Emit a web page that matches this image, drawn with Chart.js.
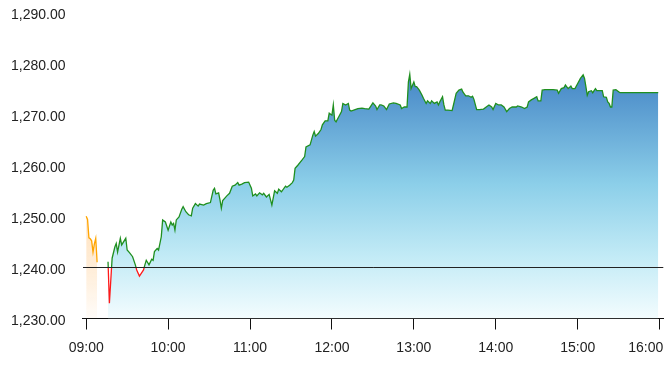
<!DOCTYPE html>
<html>
<head>
<meta charset="utf-8">
<script src="https://cdn.jsdelivr.net/npm/chart.js@4"></script>
<style>
  html, body { margin: 0; padding: 0; background: #fff; }
  #wrap { width: 672px; height: 368px; }
</style>
</head>
<body>
<div id="wrap"><canvas id="priceChart"></canvas></div>
<script>
// pre-market (orange)
const preTimes = ['09:00', '09:01', '09:02', '09:03', '09:04', '09:05', '09:06', '09:07', '09:08'];
const prePrices = [1250.0, 1249.4, 1245.8, 1245.6, 1245.2, 1243.0, 1244.6, 1245.7, 1241.0];

// regular session
const times = [
  '09:16', '09:17', '09:19', '09:21', '09:22', '09:23', '09:25', '09:26', '09:29', '09:30',
  '09:32', '09:34', '09:36', '09:37', '09:39', '09:42', '09:43', '09:44', '09:46', '09:48',
  '09:49', '09:50', '09:52', '09:53', '09:55', '09:56', '09:58', '10:00', '10:02', '10:03',
  '10:04', '10:05', '10:06', '10:08', '10:10', '10:11', '10:13', '10:15', '10:17', '10:18',
  '10:20', '10:22', '10:23', '10:26', '10:28', '10:31', '10:33', '10:34', '10:35', '10:37',
  '10:38', '10:39', '10:40', '10:43', '10:45', '10:47', '10:49', '10:51', '10:52', '10:54',
  '10:56', '10:59', '11:01', '11:02', '11:04', '11:05', '11:07', '11:09', '11:10', '11:12',
  '11:14', '11:16', '11:18', '11:20', '11:21', '11:23', '11:26', '11:27', '11:29', '11:31',
  '11:32', '11:33', '11:35', '11:38', '11:40', '11:41', '11:44', '11:46', '11:47', '11:48',
  '11:50', '11:52', '11:53', '11:55', '11:57', '11:58', '12:00', '12:01', '12:02', '12:03',
  '12:05', '12:07', '12:08', '12:10', '12:12', '12:13', '12:14', '12:17', '12:19', '12:22',
  '12:24', '12:27', '12:28', '12:30', '12:32', '12:33', '12:35', '12:36', '12:38', '12:40',
  '12:42', '12:45', '12:47', '12:50', '12:51', '12:53', '12:55', '12:56', '12:57', '12:58',
  '13:00', '13:01', '13:02', '13:04', '13:06', '13:07', '13:09', '13:10', '13:12', '13:13',
  '13:15', '13:17', '13:18', '13:19', '13:21', '13:22', '13:23', '13:25', '13:28', '13:29',
  '13:31', '13:33', '13:35', '13:36', '13:38', '13:40', '13:42', '13:43', '13:44', '13:46',
  '13:48', '13:51', '13:53', '13:55', '13:57', '13:58', '14:00', '14:02', '14:04', '14:06',
  '14:08', '14:10', '14:12', '14:15', '14:16', '14:19', '14:21', '14:23', '14:24', '14:26',
  '14:28', '14:30', '14:31', '14:33', '14:34', '14:36', '14:42', '14:45', '14:46', '14:48',
  '14:50', '14:51', '14:53', '14:55', '14:56', '14:58', '15:00', '15:02', '15:04', '15:05',
  '15:06', '15:07', '15:08', '15:10', '15:11', '15:13', '15:14', '15:16', '15:18', '15:19',
  '15:21', '15:22', '15:23', '15:24', '15:25', '15:26', '15:28', '15:30', '15:31', '15:59'
];
const prices = [
  1241.1, 1233.0, 1241.8, 1244.0, 1244.7, 1243.0, 1245.7, 1244.4, 1245.7, 1243.4,
  1242.8, 1242.1, 1240.5, 1239.5, 1238.3, 1239.5, 1240.5, 1241.4, 1240.5, 1241.6,
  1241.4, 1243.1, 1243.7, 1243.4, 1246.0, 1249.3, 1248.9, 1247.3, 1248.9, 1248.3,
  1248.6, 1247.3, 1249.3, 1249.9, 1251.4, 1251.9, 1250.9, 1250.3, 1250.1, 1251.6,
  1252.5, 1252.0, 1252.4, 1252.2, 1252.5, 1252.7, 1255.1, 1255.5, 1254.4, 1254.6,
  1253.2, 1251.6, 1253.1, 1254.0, 1254.5, 1255.9, 1256.1, 1256.6, 1256.1, 1256.3,
  1256.6, 1256.7, 1255.5, 1254.0, 1254.4, 1254.0, 1254.6, 1254.2, 1254.5, 1253.8,
  1254.3, 1252.2, 1255.0, 1254.5, 1255.3, 1254.8, 1255.9, 1255.7, 1256.1, 1256.6,
  1257.1, 1259.4, 1260.0, 1261.0, 1261.7, 1263.6, 1264.0, 1265.9, 1266.6, 1265.7,
  1266.2, 1267.0, 1267.9, 1268.7, 1268.7, 1270.2, 1269.8, 1271.8, 1268.8, 1268.5,
  1269.5, 1270.5, 1272.1, 1271.8, 1272.1, 1270.8, 1270.6, 1270.9, 1271.1, 1271.2,
  1271.1, 1271.0, 1271.4, 1272.2, 1271.6, 1270.9, 1271.8, 1271.8, 1271.6, 1270.9,
  1272.0, 1272.2, 1272.1, 1271.8, 1271.1, 1271.4, 1271.4, 1276.3, 1277.8, 1275.0,
  1276.3, 1275.4, 1275.4, 1274.7, 1273.7, 1273.1, 1272.1, 1272.6, 1272.1, 1272.6,
  1272.1, 1272.4, 1271.8, 1272.4, 1273.4, 1271.8, 1270.8, 1270.8, 1270.7, 1271.8,
  1274.1, 1274.7, 1274.9, 1274.3, 1273.6, 1273.6, 1273.3, 1273.5, 1272.9, 1270.9,
  1270.9, 1271.0, 1271.4, 1271.8, 1271.4, 1270.9, 1272.1, 1271.8, 1271.8, 1271.4,
  1270.5, 1271.1, 1271.4, 1271.4, 1271.6, 1271.4, 1271.1, 1271.4, 1272.4, 1272.8,
  1273.1, 1273.4, 1272.6, 1272.6, 1274.7, 1274.8, 1274.8, 1274.7, 1274.1, 1275.0,
  1275.2, 1275.7, 1275.0, 1275.5, 1275.0, 1275.0, 1276.0, 1277.0, 1277.7, 1277.0,
  1275.4, 1273.7, 1274.4, 1274.6, 1274.2, 1275.0, 1274.6, 1274.6, 1274.6, 1273.4,
  1273.3, 1272.4, 1272.1, 1271.4, 1271.4, 1274.7, 1274.8, 1274.4, 1274.2, 1274.2
];

const prevClose = 1240;
const yTicks = [1230, 1240, 1250, 1260, 1270, 1280, 1290];
const xTicks = ['09:00', '10:00', '11:00', '12:00', '13:00', '14:00', '15:00', '16:00'];

const toMin = t => { const [h, m] = t.split(':').map(Number); return h * 60 + m; };
const fmt = v => v.toLocaleString('en-US', { minimumFractionDigits: 2, maximumFractionDigits: 2 });
const FONT = '"Liberation Sans", Arial, sans-serif';

const prePoints = preTimes.map((t, i) => ({ x: toMin(t), y: prePrices[i] }));
const points = times.map((t, i) => ({ x: toMin(t), y: prices[i] }));

// green above previous close, red below
function lineColor(c) {
  const { chart } = c;
  const { ctx, chartArea, scales } = chart;
  if (!chartArea) return '#1f8f1f';
  const base = scales.y.getPixelForValue(prevClose);
  const stop = Math.min(Math.max((base - chartArea.top) / (chartArea.bottom - chartArea.top), 0), 1);
  const g = ctx.createLinearGradient(0, chartArea.top, 0, chartArea.bottom);
  g.addColorStop(0, '#1f8f1f');
  g.addColorStop(stop, '#1f8f1f');
  g.addColorStop(stop, '#ff1a1a');
  g.addColorStop(1, '#ff1a1a');
  return g;
}

function blueFill(c) {
  const { chart } = c;
  const { ctx, chartArea, scales } = chart;
  if (!chartArea) return 'rgba(70,140,200,0.5)';
  const top = scales.y.getPixelForValue(Math.max(...prices));
  const g = ctx.createLinearGradient(0, top, 0, chartArea.bottom);
  g.addColorStop(0, '#4586c6');
  g.addColorStop(0.45, '#8ccfe9');
  g.addColorStop(0.75, '#c3ebf6');
  g.addColorStop(1, '#f3fcfe');
  return g;
}

function orangeFill(c) {
  const { chart } = c;
  const { ctx, chartArea, scales } = chart;
  if (!chartArea) return 'rgba(255,170,60,0.2)';
  const top = scales.y.getPixelForValue(Math.max(...prePrices));
  const g = ctx.createLinearGradient(0, top, 0, chartArea.bottom);
  g.addColorStop(0, 'rgba(255,170,70,0.35)');
  g.addColorStop(0.6, 'rgba(255,170,70,0.18)');
  g.addColorStop(1, 'rgba(255,170,70,0.03)');
  return g;
}

// x labels: centred under the ticks, last one kept inside the plot
const xLabels = {
  id: 'xLabels',
  afterDraw(chart) {
    const { ctx, scales } = chart;
    const xs = scales.x;
    ctx.save();
    ctx.font = '14px ' + FONT;
    ctx.fillStyle = '#222';
    ctx.textAlign = 'center';
    ctx.textBaseline = 'middle';
    xTicks.forEach(t => {
      const w = ctx.measureText(t).width;
      let cx = xs.getPixelForValue(toMin(t));
      cx = Math.min(cx, xs.right - w / 2);
      ctx.fillText(t, cx, xs.top + 30);
    });
    ctx.restore();
  }
};

new Chart(document.getElementById('priceChart'), {
  type: 'line',
  data: {
    datasets: [
      {
        data: prePoints,
        borderColor: '#ffa500',
        borderWidth: 1.3,
        backgroundColor: orangeFill,
        fill: 'start',
        pointRadius: 0,
        tension: 0
      },
      {
        data: points,
        borderColor: lineColor,
        borderWidth: 1.3,
        backgroundColor: blueFill,
        fill: 'start',
        pointRadius: 0,
        tension: 0
      }
    ]
  },
  options: {
    responsive: true,
    maintainAspectRatio: false,
    animation: false,
    events: [],
    layout: { padding: { left: 0, right: 8.7, top: 12, bottom: 0 } },
    plugins: { legend: { display: false }, tooltip: { enabled: false } },
    scales: {
      x: {
        type: 'linear',
        min: toMin(xTicks[0]) - 2.7,
        max: toMin(xTicks[xTicks.length - 1]) + 2.7,
        afterBuildTicks: s => { s.ticks = xTicks.map(t => ({ value: toMin(t) })); },
        afterFit: s => { s.height = 49.5; s.paddingLeft = 0; s.paddingRight = 0; },
        ticks: { display: false },
        grid: { drawOnChartArea: false, drawTicks: true, tickLength: 11, color: '#111', lineWidth: 1 },
        border: { display: true, color: '#111', width: 1 }
      },
      y: {
        min: yTicks[0],
        max: yTicks[yTicks.length - 1],
        afterBuildTicks: s => { s.ticks = yTicks.map(v => ({ value: v })); },
        afterFit: s => { s.width = 82.5; s.paddingTop = 0; s.paddingBottom = 0; },
        ticks: {
          padding: 17,
          labelOffset: 3,
          color: '#222',
          font: { family: FONT, size: 14 },
          callback: v => fmt(v)
        },
        grid: {
          z: 1,
          drawTicks: false,
          color: c => (c.tick && c.tick.value === prevClose ? '#222' : 'rgba(0,0,0,0)'),
          lineWidth: 1
        },
        border: { display: false }
      }
    }
  },
  plugins: [xLabels]
});
</script>
</body>
</html>
